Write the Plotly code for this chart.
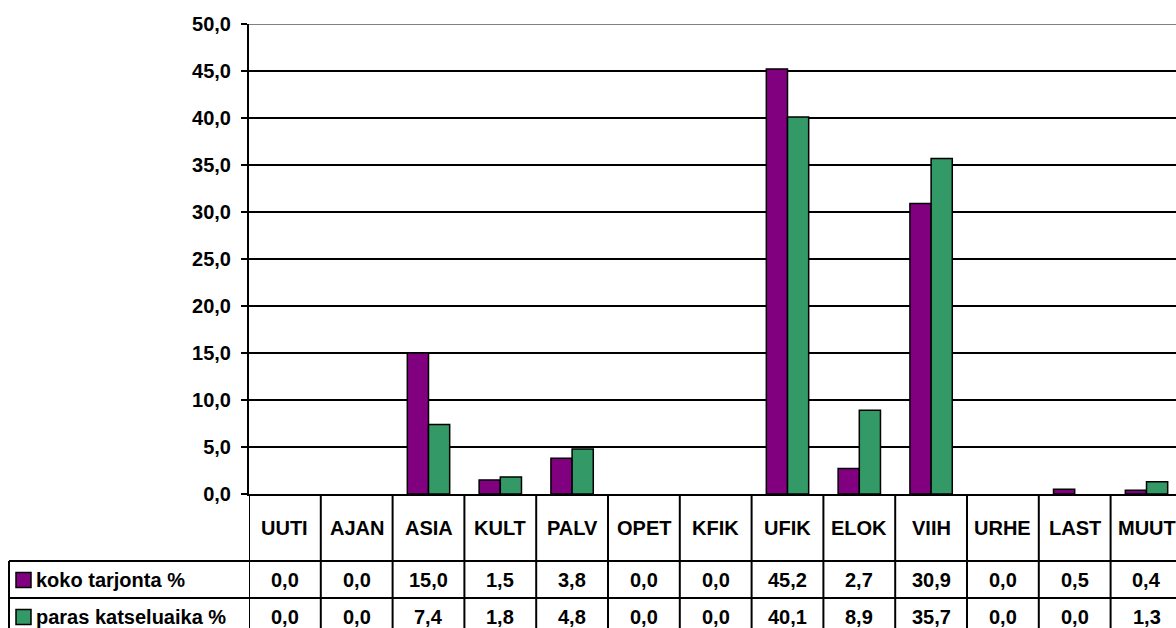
import plotly.graph_objects as go

categories = ["UUTI", "AJAN", "ASIA", "KULT", "PALV", "OPET", "KFIK",
              "UFIK", "ELOK", "VIIH", "URHE", "LAST", "MUUT"]
koko_tarjonta = [0.0, 0.0, 15.0, 1.5, 3.8, 0.0, 0.0, 45.2, 2.7, 30.9, 0.0, 0.5, 0.4]
paras_katseluaika = [0.0, 0.0, 7.4, 1.8, 4.8, 0.0, 0.0, 40.1, 8.9, 35.7, 0.0, 0.0, 1.3]
series_names = ["koko tarjonta %", "paras katseluaika %"]
series_values = [koko_tarjonta, paras_katseluaika]
series_colors = ["#800080", "#339966"]

W, H = 1176, 628
ML, MR, MT = 249, 0, 24
PLOT_BOTTOM = 494
MB = H - PLOT_BOTTOM
PW = W - ML - MR
PH = PLOT_BOTTOM - MT
COLW = 71.8
FONT = "Liberation Sans, Arial, sans-serif"
FS = 20


def py(page_px):
    return (PLOT_BOTTOM - page_px) / PH


def pxx(page_px):
    return (page_px - ML) / PW


fig = go.Figure()
for name, vals, col in zip(series_names, series_values, series_colors):
    fig.add_trace(go.Bar(
        x=categories, y=[v if v != 0 else None for v in vals], name=name,
        marker=dict(color=col, line=dict(color="black", width=1.5)),
        showlegend=False, hoverinfo="skip",
    ))

shapes = []
annotations = []

# top border of plot area (gray)
shapes.append(dict(type="line", xref="paper", yref="y", x0=0, x1=1, y0=50, y1=50,
                   line=dict(color="#808080", width=2), layer="above"))

# table vertical lines
for i in range(len(categories) + 1):
    shapes.append(dict(type="line", xref="x", yref="paper", x0=i - 0.5, x1=i - 0.5,
                       y0=py(494), y1=py(660), line=dict(color="black", width=2)))
# table horizontal lines
for yy in (561, 598, 635):
    shapes.append(dict(type="line", xref="paper", yref="paper", x0=pxx(9), x1=1.05,
                       y0=py(yy), y1=py(yy), line=dict(color="black", width=2)))
# legend box left border
shapes.append(dict(type="line", xref="paper", yref="paper", x0=pxx(9), x1=pxx(9),
                   y0=py(561), y1=py(660), line=dict(color="black", width=2)))

# category labels
for c in categories:
    annotations.append(dict(x=c, xref="x", y=py(528), yref="paper", text=c,
                            showarrow=False, xanchor="center", yanchor="middle",
                            font=dict(family=FONT, size=FS, color="black", weight="bold")))

row_centers = [580, 617]
for r, (name, vals, col) in enumerate(zip(series_names, series_values, series_colors)):
    yc = row_centers[r]
    shapes.append(dict(type="rect", xref="paper", yref="paper",
                       x0=pxx(16), x1=pxx(31), y0=py(yc - 7.5), y1=py(yc + 7.5),
                       fillcolor=col, line=dict(color="black", width=1.5)))
    annotations.append(dict(x=pxx(34), xref="paper", y=py(yc), yref="paper", text=name,
                            showarrow=False, xanchor="left", yanchor="middle",
                            font=dict(family=FONT, size=FS, color="black", weight="bold")))
    for c, v in zip(categories, vals):
        annotations.append(dict(x=c, xref="x", y=py(yc), yref="paper",
                                text=f"{v:.1f}".replace(".", ","),
                                showarrow=False, xanchor="center", yanchor="middle",
                                font=dict(family=FONT, size=FS, color="black", weight="bold")))

fig.update_layout(
    width=W, height=H,
    margin=dict(l=ML, r=MR, t=MT, b=MB, pad=0),
    paper_bgcolor="white", plot_bgcolor="white",
    barmode="group", bargap=0.41, bargroupgap=0.0,
    separators=", ",
    font=dict(family=FONT, size=FS, color="black"),
    xaxis=dict(range=[-0.5, -0.5 + PW / COLW], showticklabels=False, ticks="",
               showgrid=False, showline=True, linecolor="black", linewidth=2,
               zeroline=False, fixedrange=True),
    yaxis=dict(range=[0, 50], dtick=5, tickformat=".1f", showgrid=True,
               gridcolor="black", gridwidth=1.5, showline=True, linecolor="black",
               linewidth=2, ticks="outside", ticklen=6, tickwidth=2, tickcolor="black",
               zeroline=False, ticklabelstandoff=6, fixedrange=True,
               tickfont=dict(family=FONT, size=FS, color="black", weight="bold")),
    shapes=shapes,
    annotations=annotations,
)

fig.write_html("out.html",
               config={"displayModeBar": False, "staticPlot": True},
               post_script="document.body.style.margin='0';document.body.style.overflow='hidden';")
